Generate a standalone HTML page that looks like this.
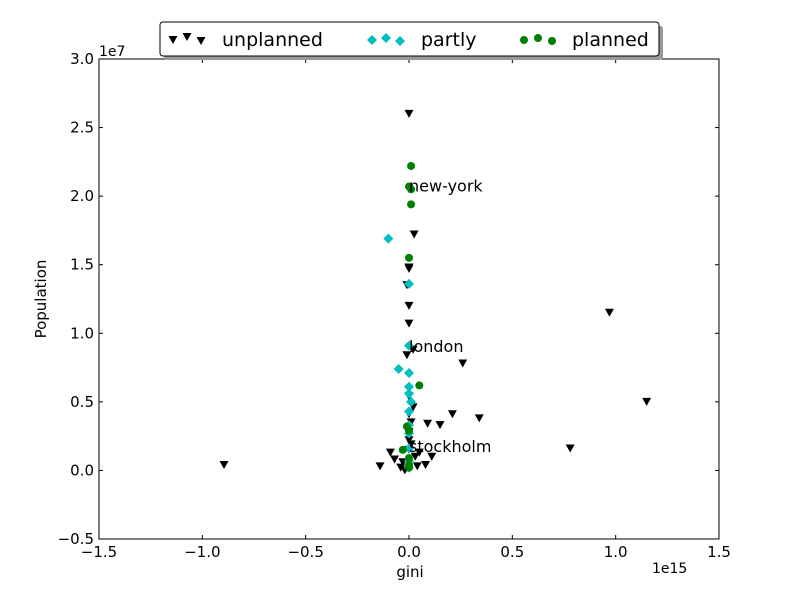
<!DOCTYPE html>
<html><head><meta charset="utf-8"><style>
body{margin:0;background:#fff;font-family:"Liberation Sans","DejaVu Sans",sans-serif}
svg text{font-family:"DejaVu Sans","Liberation Sans",sans-serif}
</style></head><body>
<svg id="chart" width="800" height="600" xmlns="http://www.w3.org/2000/svg">
<rect width="800" height="600" fill="#fff"/>
<g id="marks"></g>
<rect x="99" y="59" width="620" height="480" fill="none" stroke="#000" stroke-width="1"/>
<g id="axes"></g>
<text x="99" y="56" font-size="14">1e7</text>
<text x="652" y="573" font-size="14">1e15</text>
<text x="410" y="577" font-size="15" text-anchor="middle">gini</text>
<text x="46" y="299" font-size="15" text-anchor="middle" transform="rotate(-90 46 299)">Population</text>
<g>
<rect x="164" y="26" width="499" height="34" rx="3" fill="#999"/>
<rect x="160" y="22" width="499" height="34" rx="3" fill="#fff" stroke="#000"/>
<g id="legend-markers"></g>
<text x="222" y="46" font-size="19">unplanned</text>
<text x="421" y="46" font-size="19">partly</text>
<text x="572" y="46" font-size="19">planned</text>
</g>
</svg>
<script>
const xTicks=[-1.5,-1.0,-0.5,0.0,0.5,1.0,1.5];
const yTicks=[-0.5,0.0,0.5,1.0,1.5,2.0,2.5,3.0];
const unplannedX=[0,0.025,0,0,-0.01,0,0,0.97,0.26,1.15,0.78,-0.895,-0.14,-0.09,0.09,0.15,0.21,0.34,0.11,0.08,-0.01,0.02,0,0,0.01,0,0,-0.04,-0.03,0.04,0.03,0.05,-0.07,0,0.01,0.02,-0.02];
const unplannedY=[2.6,1.72,1.48,1.47,1.35,1.2,1.07,1.15,0.78,0.5,0.16,0.04,0.03,0.13,0.34,0.33,0.41,0.38,0.1,0.04,0.84,0.88,0.54,0.41,0.35,0.22,0.15,0.02,0.06,0.03,0.1,0.13,0.08,0.28,0.19,0.46,0.0];
const partlyX=[-0.1,0,0,-0.05,0,0,0,0.01,0,0,0,0,0,0];
const partlyY=[1.69,1.36,0.91,0.74,0.71,0.61,0.56,0.5,0.43,0.33,0.27,0.16,0.07,0.02];
const plannedX=[0.01,0,0.01,0.01,0,0.05,-0.01,0,-0.03,0,0,0];
const plannedY=[2.22,2.07,2.05,1.94,1.55,0.62,0.32,0.29,0.15,0.09,0.04,0.02];
const cityNames=["new-york","london","stockholm"];
const cityX=[0,0,0];
const cityY=[2.07,0.9,0.17];
const NS="http://www.w3.org/2000/svg";
const sx=v=>99+(v+1.5)/3*620;
const sy=v=>59+(3-v)/3.5*480;
function mk(tag,attrs,parent){const e=document.createElementNS(NS,tag);for(const k in attrs)e.setAttribute(k,attrs[k]);parent.appendChild(e);return e;}
const axes=document.getElementById('axes'),marks=document.getElementById('marks');
xTicks.forEach(t=>{const x=sx(t);
 const a=mk('line',{x1:x,x2:x,y1:539,y2:535,stroke:'#000'},axes);
 
 
 const b=mk('line',{x1:x,x2:x,y1:59,y2:63,stroke:'#000'},axes);
 
 
 const tx=mk('text',{x:x,y:557,'font-size':15,'text-anchor':'middle'},axes);tx.textContent=t.toFixed(1).replace('-','\u2212');
 
 });
yTicks.forEach(t=>{const y=sy(t);
 const a=mk('line',{x1:99,x2:103,y1:y,y2:y,stroke:'#000'},axes);
 
 
 const b=mk('line',{x1:715,x2:719,y1:y,y2:y,stroke:'#000'},axes);
 
 
 const tx=mk('text',{x:94,y:y+5,'font-size':15,'text-anchor':'end'},axes);tx.textContent=t.toFixed(1).replace('-','\u2212');
 
 });
function tri(x,y,p){const e=mk('polygon',{points:`${x-4.5},${y-4} ${x+4.5},${y-4} ${x},${y+4}`,fill:'#000'},p);return e;}
function dia(x,y,p){const e=mk('polygon',{points:`${x},${y-5} ${x+5},${y} ${x},${y+5} ${x-5},${y}`,fill:'#00bfbf'},p);return e;}
function dot(x,y,p){const e=mk('circle',{cx:x,cy:y,r:4,fill:'#008000'},p);return e;}
unplannedX.forEach((v,i)=>{const e=tri(sx(v),sy(unplannedY[i]),marks);
 
 });
partlyX.forEach((v,i)=>{const e=dia(sx(v),sy(partlyY[i]),marks);
 
 });
plannedX.forEach((v,i)=>{const e=dot(sx(v),sy(plannedY[i]),marks);
 
 });
cityNames.forEach((n,i)=>{const t=mk('text',{x:sx(cityX[i]),y:sy(cityY[i])+5,'font-size':16},marks);t.textContent=n;
 
 });
const lm=document.getElementById('legend-markers');
[[173,40],[187,37],[201,41]].forEach(p=>tri(p[0],p[1],lm));
[[372,40],[386,38],[400,41]].forEach(p=>dia(p[0],p[1],lm));
[[524,40],[538,38],[552,41]].forEach(p=>dot(p[0],p[1],lm));
</script>
</body></html>
